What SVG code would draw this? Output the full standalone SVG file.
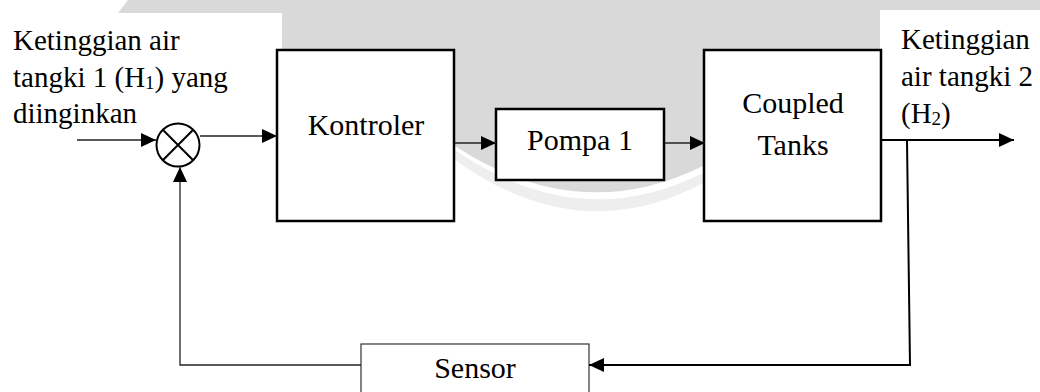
<svg xmlns="http://www.w3.org/2000/svg" width="1040" height="392" viewBox="0 0 1040 392">
<style>
text{font-family:"Liberation Serif","Times New Roman",serif;fill:#000}
.lbl{font-size:29px}
.box{fill:#fff;stroke:#000;stroke-width:2.5}
.thinbox{fill:#fff;stroke:#333;stroke-width:1.2}
.c{text-anchor:middle;font-size:30px}
.ln{fill:none;stroke:#000;stroke-width:2}
.thin{fill:none;stroke:#222;stroke-width:1.3}
</style>
<defs>
<marker id="ah" markerUnits="userSpaceOnUse" markerWidth="16" markerHeight="14" refX="15" refY="7" orient="auto">
<path d="M0,0 L15,7 L0,14 z" fill="#000"/>
</marker>
</defs>
<rect width="1040" height="392" fill="#fff"/>
<g id="background">
<path d="M455,150 Q580,236 705,172 L880,176 V190 L705,182 Q580,250 455,160 Z" fill="#eeeeee"/>
<path d="M128,0 H1040 V10 H880 V168 L705,165 Q580,228 455,146 L282,146 V13 H118 Z" fill="#d9d9d9"/>
</g>
<g id="label-in">
<text class="lbl" x="13" y="50">Ketinggian air</text>
<text class="lbl" x="13" y="87">tangki 1 (H<tspan font-size="19" dy="2">1</tspan><tspan dy="-2">) yang</tspan></text>
<text class="lbl" x="13" y="123">diinginkan</text>
</g>
<g id="label-out">
<text class="lbl" x="901" y="49">Ketinggian</text>
<text class="lbl" x="901" y="86">air tangki 2</text>
<text class="lbl" x="901" y="123">(H<tspan font-size="19" dy="2">2</tspan><tspan dy="-2">)</tspan></text>
</g>
<g id="sum">
<circle cx="178" cy="145" r="21.5" fill="#fff" stroke="#000" stroke-width="2"/>
<path d="M162.8,129.8 L193.2,160.2 M193.2,129.8 L162.8,160.2" stroke="#000" stroke-width="2"/>
</g>
<g id="kontroler">
<rect class="box" x="277" y="50" width="177" height="171"/>
<text class="c" x="366" y="135">Kontroler</text>
</g>
<g id="pompa">
<rect class="box" x="496" y="109" width="168" height="71"/>
<text class="c" x="580" y="150">Pompa 1</text>
</g>
<g id="coupled">
<rect class="box" x="704" y="50" width="177" height="171"/>
<text class="c" x="793" y="113">Coupled</text>
<text class="c" x="793" y="155">Tanks</text>
</g>
<g id="sensor">
<rect class="thinbox" x="361" y="344" width="228" height="60"/>
<text class="c" x="475" y="378" font-size="27">Sensor</text>
</g>
<g id="connectors">
<line class="thin" x1="77" y1="140" x2="156" y2="140" marker-end="url(#ah)"/>
<line class="thin" x1="200" y1="136" x2="277" y2="136" marker-end="url(#ah)"/>
<line class="thin" x1="455" y1="143" x2="496" y2="143" marker-end="url(#ah)"/>
<line class="thin" x1="665" y1="143" x2="705" y2="143" marker-end="url(#ah)"/>
<line class="ln" x1="882" y1="140" x2="1014" y2="140" marker-end="url(#ah)"/>
<polyline class="ln" points="907,141 910,365 589,365" marker-end="url(#ah)"/>
<polyline class="thin" points="361,365 180,365 180,167" marker-end="url(#ah)"/>
</g>
</svg>
